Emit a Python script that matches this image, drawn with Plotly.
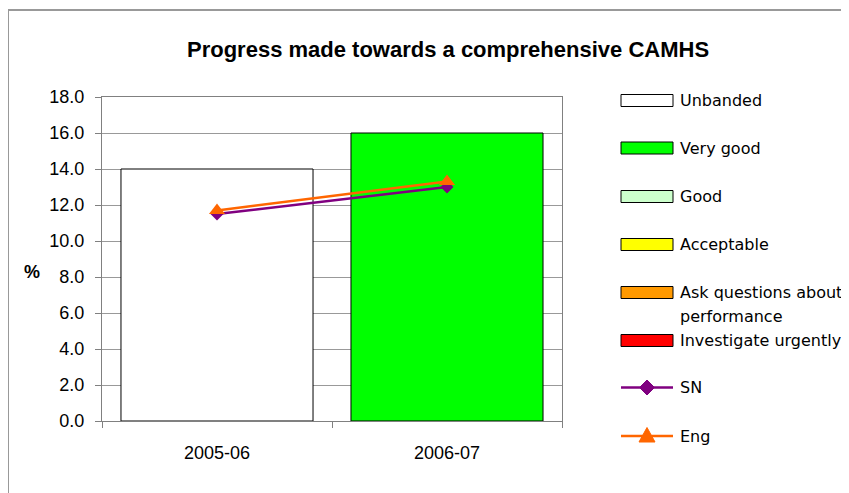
import plotly.graph_objects as go

categories = ["2005-06", "2006-07"]
band_names = ["Unbanded", "Very good", "Good", "Acceptable",
              "Ask questions about<br>performance", "Investigate urgently"]
band_colors = ["#FFFFFF", "#00FF00", "#CCFFCC", "#FFFF00", "#FF9900", "#FF0000"]
band_values = [
    [14.0, None],   # Unbanded
    [None, 16.0],   # Very good
    [None, None],   # Good
    [None, None],   # Acceptable
    [None, None],   # Ask questions about performance
    [None, None],   # Investigate urgently
]
sn_values = [11.5, 13.0]
eng_values = [11.7, 13.3]
y_ticks = [0, 2, 4, 6, 8, 10, 12, 14, 16, 18]

# plot area in page pixels (for paper-coordinate helpers)
W, H = 849, 493
OFF = 8  # page body offset
L, R, T, B = 102, 562, 97, 421


def px(x):
    return (x - L) / (R - L)


def py(y):
    return (B - y) / (B - T)


fig = go.Figure()
for name, color, vals in zip(band_names, band_colors, band_values):
    fig.add_trace(go.Bar(x=categories, y=vals, name=name.replace("<br>", " "),
                         marker=dict(color=color, line=dict(color="#000000", width=1)),
                         width=0.835, showlegend=False))

fig.add_trace(go.Scatter(x=categories, y=sn_values, name="SN", mode="lines+markers",
                         line=dict(color="#800080", width=2.5),
                         marker=dict(symbol="diamond", size=10, color="#800080"),
                         showlegend=False))
fig.add_trace(go.Scatter(x=categories, y=eng_values, name="Eng", mode="lines+markers",
                         line=dict(color="#FF6600", width=2.5),
                         marker=dict(symbol="triangle-up", size=14, color="#FF6600"),
                         showlegend=False))

shapes = []
annotations = []

# outer chart border
shapes.append(dict(type="rect", xref="paper", yref="paper",
                   x0=px(8), y0=py(10), x1=px(905), y1=py(540),
                   line=dict(color="#999999", width=2), fillcolor="rgba(0,0,0,0)", layer="below"))

# custom legend
legend_font = dict(family="DejaVu Sans", size=16, color="#000000")
rect_x0, rect_x1, text_x = 621, 673, 678
band_y = [100.5, 148, 196.5, 244.5, 292.5, 340.5]
for name, color, yc in zip(band_names, band_colors, band_y):
    shapes.append(dict(type="rect", xref="paper", yref="paper",
                       x0=px(rect_x0), x1=px(rect_x1), y0=py(yc - 6), y1=py(yc + 6),
                       fillcolor=color, line=dict(color="#000000", width=1)))
    for i, part in enumerate(name.split("<br>")):
        annotations.append(dict(text=part, xref="paper", yref="paper",
                                x=px(text_x), y=py(yc + 24 * i), xanchor="left", yanchor="middle",
                                showarrow=False, font=legend_font))

# SN legend
sn_y = 387.5
shapes.append(dict(type="line", xref="paper", yref="paper",
                   x0=px(rect_x0), x1=px(rect_x1), y0=py(sn_y), y1=py(sn_y),
                   line=dict(color="#800080", width=2.5)))
cx = 647
shapes.append(dict(type="path", xref="paper", yref="paper",
                   path=f"M {px(cx-7.5)},{py(sn_y)} L {px(cx)},{py(sn_y-7.5)} L {px(cx+7.5)},{py(sn_y)} L {px(cx)},{py(sn_y+7.5)} Z",
                   fillcolor="#800080", line=dict(color="#800080", width=1)))
annotations.append(dict(text="SN", xref="paper", yref="paper", x=px(text_x), y=py(sn_y),
                        xanchor="left", yanchor="middle", showarrow=False, font=legend_font))

# Eng legend
eng_y = 436
shapes.append(dict(type="line", xref="paper", yref="paper",
                   x0=px(rect_x0), x1=px(rect_x1), y0=py(eng_y), y1=py(eng_y),
                   line=dict(color="#FF6600", width=2.5)))
shapes.append(dict(type="path", xref="paper", yref="paper",
                   path=f"M {px(cx-8)},{py(eng_y+6)} L {px(cx)},{py(eng_y-8.5)} L {px(cx+8)},{py(eng_y+6)} Z",
                   fillcolor="#FF6600", line=dict(color="#FF6600", width=1)))
annotations.append(dict(text="Eng", xref="paper", yref="paper", x=px(text_x), y=py(eng_y),
                        xanchor="left", yanchor="middle", showarrow=False, font=legend_font))

# title and axis label
annotations.append(dict(text="<b>Progress made towards a comprehensive CAMHS</b>",
                        xref="paper", yref="paper", x=px(448), y=py(49),
                        xanchor="center", yanchor="middle", showarrow=False,
                        font=dict(family="Liberation Sans, Arial", size=22, color="#000000")))
annotations.append(dict(text="<b>%</b>", xref="paper", yref="paper", x=px(32), y=py(272),
                        xanchor="center", yanchor="middle", showarrow=False,
                        font=dict(family="Liberation Sans, Arial", size=18, color="#000000")))

fig.update_layout(
    width=W, height=H,
    margin=dict(l=L - OFF, r=W - (R - OFF), t=T - OFF, b=H - (B - OFF), pad=0),
    paper_bgcolor="#FFFFFF", plot_bgcolor="#FFFFFF",
    barmode="overlay", showlegend=False,
    font=dict(family="Liberation Sans, Arial", size=18, color="#000000"),
    shapes=shapes, annotations=annotations,
    xaxis=dict(type="category", showline=True, linecolor="#808080", linewidth=1, mirror=True,
               ticks="outside", ticklen=6, tickcolor="#808080", tickson="boundaries",
               showgrid=False, ticklabelstandoff=15,
               tickfont=dict(family="Liberation Sans, Arial", size=18)),
    yaxis=dict(range=[0, 18], tickvals=y_ticks, tickformat=".1f",
               showline=True, linecolor="#808080", linewidth=1, mirror=True,
               ticks="outside", ticklen=6, tickcolor="#808080",
               showgrid=True, gridcolor="#999999", gridwidth=1, zeroline=False,
               ticklabelstandoff=7,
               tickfont=dict(family="Liberation Sans, Arial", size=18)),
)

fig.write_html("out.html")
